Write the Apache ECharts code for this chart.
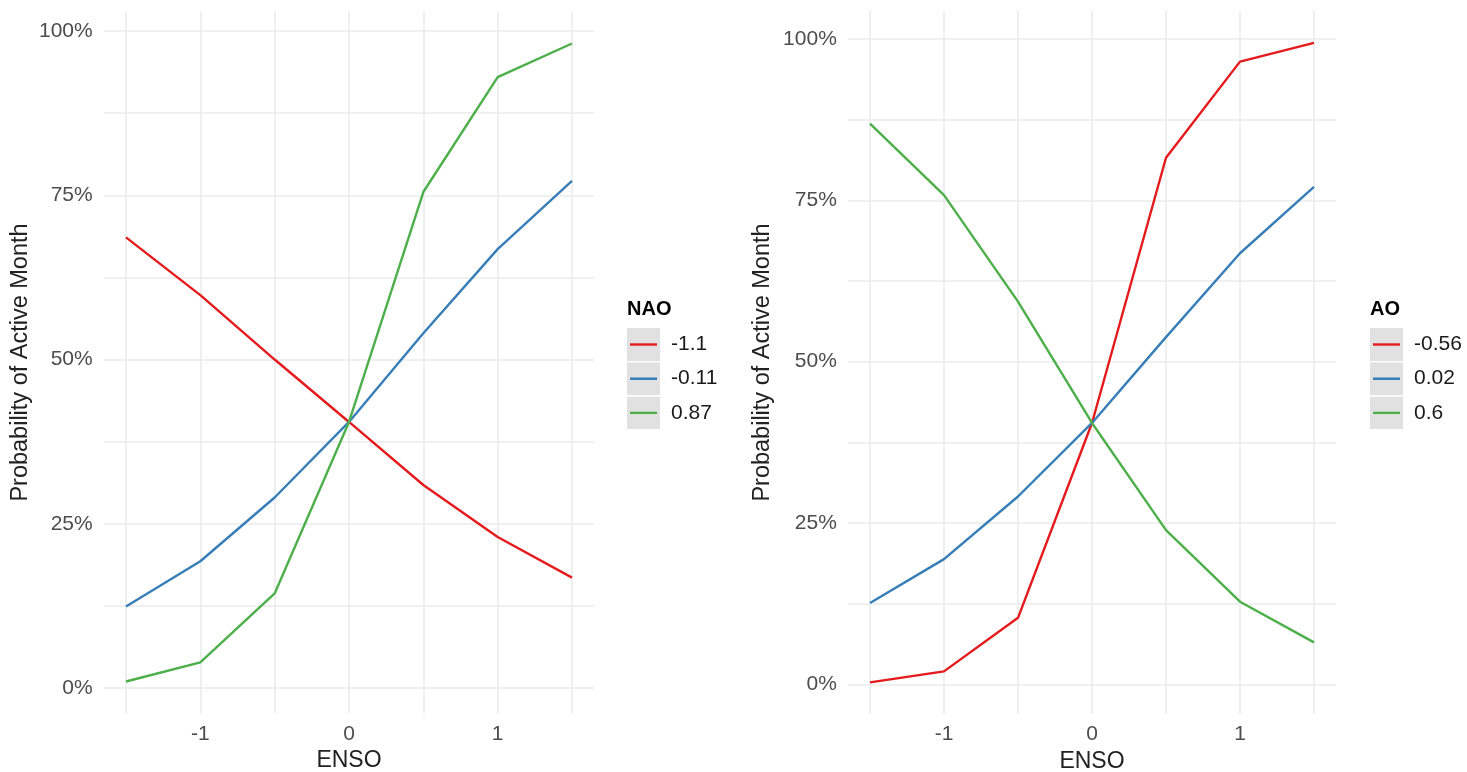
<!DOCTYPE html>
<html>
<head>
<meta charset="utf-8">
<title>Probability of Active Month by ENSO</title>
<script src="https://cdn.jsdelivr.net/npm/echarts@6/dist/echarts.min.js"></script>
<style>
  html, body { margin: 0; padding: 0; background: #ffffff; }
  #chart { width: 1467px; height: 772px; }
</style>
</head>
<body>
<div id="chart"></div>
<script>
// ENSO values along the x axis
const enso = [-1.5, -1, -0.5, 0, 0.5, 1, 1.5];

// Left panel: NAO levels
const naoLevels = ['-1.1', '-0.11', '0.87'];
const naoLow  = [0.686, 0.598, 0.500, 0.405, 0.309, 0.230, 0.168];
const naoMid  = [0.124, 0.193, 0.290, 0.405, 0.540, 0.668, 0.772];
const naoHigh = [0.010, 0.039, 0.144, 0.405, 0.755, 0.930, 0.981];

// Right panel: AO levels
const aoLevels = ['-0.56', '0.02', '0.6'];
const aoLow  = [0.003, 0.020, 0.103, 0.405, 0.816, 0.965, 0.994];
const aoMid  = [0.126, 0.194, 0.291, 0.405, 0.538, 0.668, 0.771];
const aoHigh = [0.869, 0.758, 0.593, 0.405, 0.239, 0.128, 0.065];

// Tick labels
const xTickLabels = [-1, 0, 1];
const yTickLabels = [0, 0.25, 0.5, 0.75, 1];
// Major + minor grid positions
const xGrid = [-1.5, -1, -0.5, 0, 0.5, 1, 1.5];
const yGrid = [0, 0.125, 0.25, 0.375, 0.5, 0.625, 0.75, 0.875, 1];

const palette = ['#E41A1C', '#377EB8', '#4DAF4A'];
const FONT = '"Liberation Sans", Arial, Helvetica, sans-serif';

function pairs(ys) {
  return enso.map((x, i) => [x, ys[i]]);
}

function keyIcon(color) {
  const svg = "<svg xmlns='http://www.w3.org/2000/svg' width='33' height='33'>" +
    "<rect width='33' height='33' fill='#e1e1e1'/>" +
    "<line x1='3' y1='16.5' x2='30' y2='16.5' stroke='" + color + "' stroke-width='2.4'/></svg>";
  return 'image://data:image/svg+xml;charset=utf-8,' + encodeURIComponent(svg);
}

function xAxisFor(gridIndex) {
  return {
    type: 'value', gridIndex: gridIndex,
    min: -1.65, max: 1.65,
    name: 'ENSO', nameLocation: 'middle', nameGap: 32,
    nameTextStyle: { fontFamily: FONT, fontSize: 23, color: '#222222' },
    axisLine: { show: false },
    axisTick: { show: false, customValues: xGrid },
    axisLabel: {
      customValues: xTickLabels, margin: 10,
      fontFamily: FONT, fontSize: 21, color: '#4d4d4d',
      formatter: v => String(v)
    },
    splitLine: { show: true, lineStyle: { color: '#ebebeb', width: 1.6 } }
  };
}

function yAxisFor(gridIndex, min, max, gap) {
  return {
    type: 'value', gridIndex: gridIndex,
    min: min, max: max,
    name: 'Probability of Active Month', nameLocation: 'middle', nameGap: gap,
    nameTextStyle: { fontFamily: FONT, fontSize: 23.5, color: '#222222' },
    axisLine: { show: false },
    axisTick: { show: false, customValues: yGrid },
    axisLabel: {
      customValues: yTickLabels, margin: 11,
      fontFamily: FONT, fontSize: 21, color: '#4d4d4d',
      formatter: v => Math.round(v * 100) + '%'
    },
    splitLine: { show: true, lineStyle: { color: '#ebebeb', width: 1.6 } }
  };
}

function lineSeries(name, values, color, axisIndex) {
  return {
    type: 'line', name: name,
    xAxisIndex: axisIndex, yAxisIndex: axisIndex,
    data: pairs(values),
    showSymbol: false, symbol: 'none',
    lineStyle: { color: color, width: 2.4 },
    itemStyle: { color: color },
    emphasis: { disabled: true }
  };
}

function legendFor(levels, left) {
  return {
    orient: 'vertical', left: left, top: 328, padding: 0,
    itemWidth: 33, itemHeight: 33, itemGap: 1.2,
    selectedMode: false,
    textStyle: { fontFamily: FONT, fontSize: 21, color: '#1a1a1a', padding: [0, 0, 0, 6] },
    data: levels.map((n, i) => ({ name: n, icon: keyIcon(palette[i]) }))
  };
}

const chart = echarts.init(document.getElementById('chart'), null, { renderer: 'canvas' });
chart.setOption({
  backgroundColor: '#ffffff',
  animation: false,
  title: [
    { text: 'NAO', left: 627, top: 299, padding: 0,
      textStyle: { fontFamily: FONT, fontSize: 20, fontWeight: 'bold', color: '#000000' } },
    { text: 'AO', left: 1370, top: 299, padding: 0,
      textStyle: { fontFamily: FONT, fontSize: 20, fontWeight: 'bold', color: '#000000' } }
  ],
  legend: [legendFor(naoLevels, 627), legendFor(aoLevels, 1370)],
  grid: [
    { left: 103.7, width: 490.6, top: 11.6, height: 701.8, outerBoundsMode: 'none', containLabel: false },
    { left: 847.8, width: 488.4, top: 10.9, height: 703.2, outerBoundsMode: 'none', containLabel: false }
  ],
  xAxis: [xAxisFor(0), xAxisFor(1)],
  yAxis: [yAxisFor(0, -0.0386, 1.0296, 71), yAxisFor(1, -0.0462, 1.0436, 73)],
  series: [
    lineSeries(naoLevels[0], naoLow, palette[0], 0),
    lineSeries(naoLevels[1], naoMid, palette[1], 0),
    lineSeries(naoLevels[2], naoHigh, palette[2], 0),
    lineSeries(aoLevels[0], aoLow, palette[0], 1),
    lineSeries(aoLevels[1], aoMid, palette[1], 1),
    lineSeries(aoLevels[2], aoHigh, palette[2], 1)
  ]
});
</script>
</body>
</html>
